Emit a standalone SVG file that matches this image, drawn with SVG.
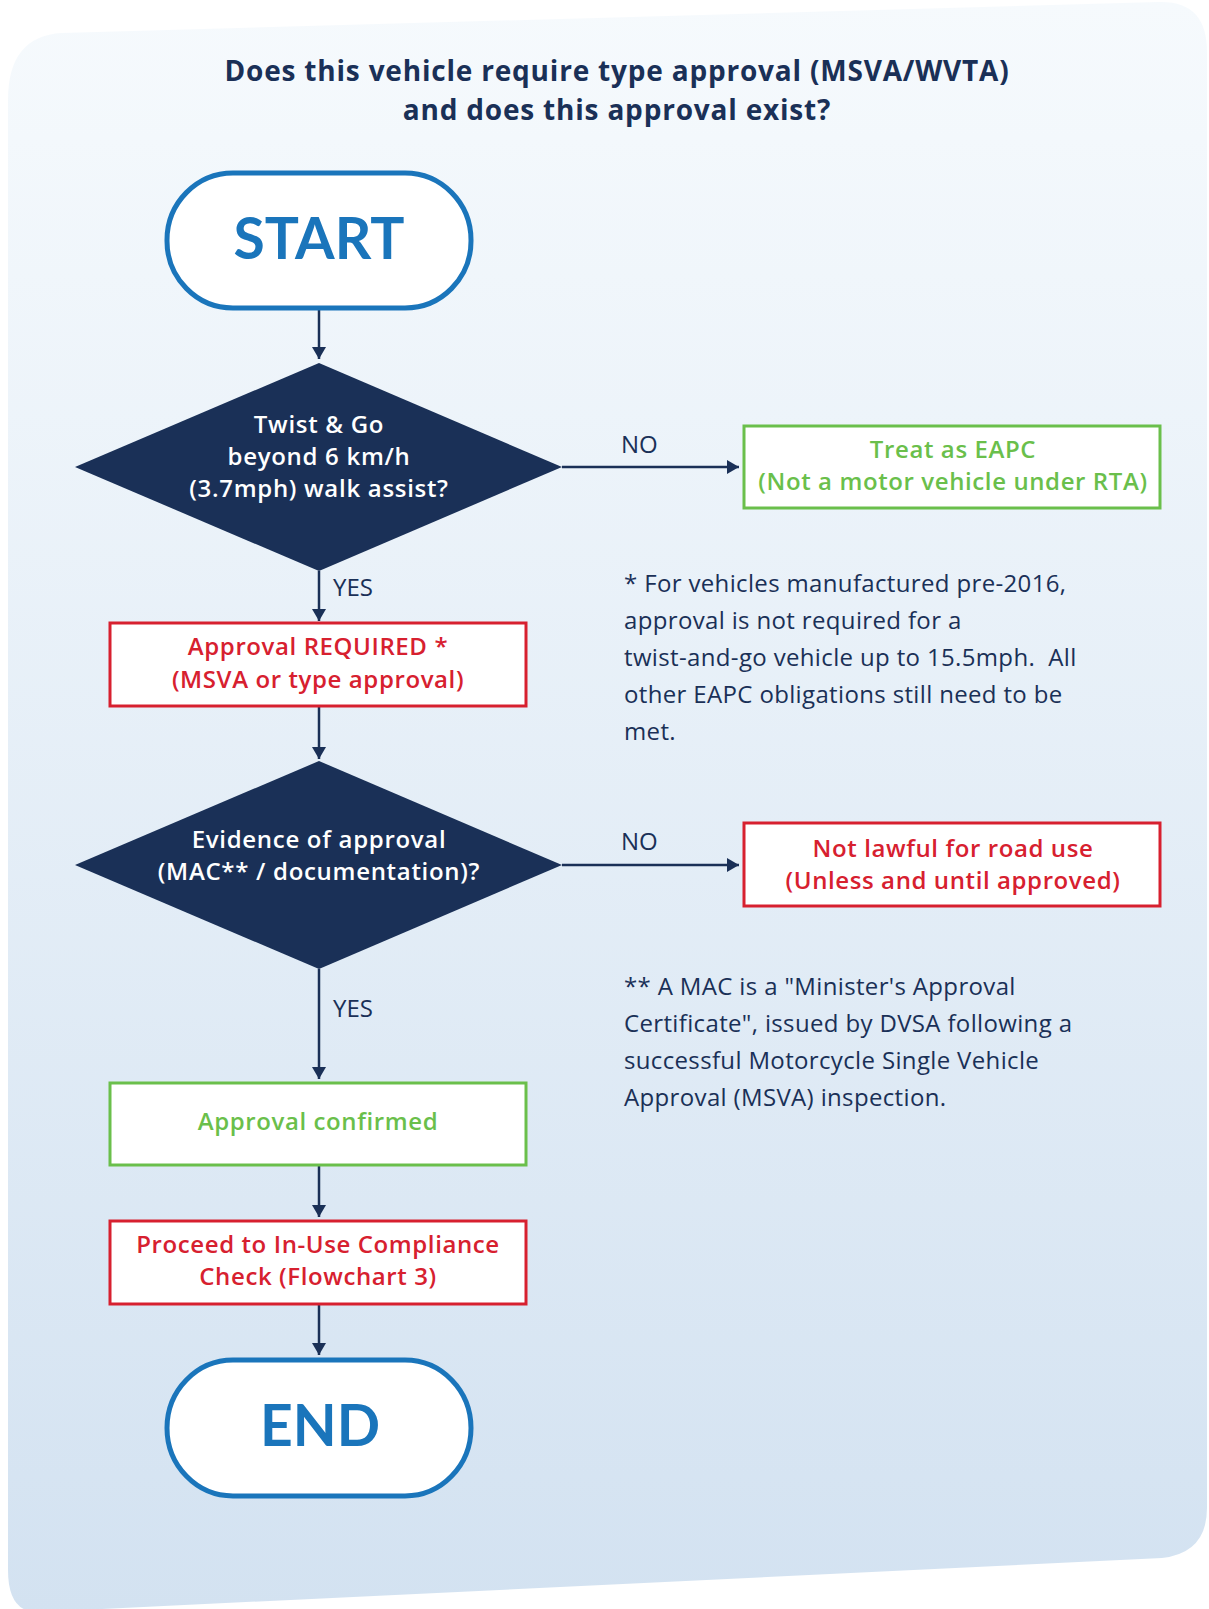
<svg xmlns="http://www.w3.org/2000/svg" width="1209" height="1609" viewBox="0 0 1209 1609">
<defs>
<linearGradient id="bg" x1="0" y1="0" x2="0" y2="1">
<stop offset="0" stop-color="#f6fafd"/>
<stop offset="1" stop-color="#d3e2f1"/>
</linearGradient>
<marker id="ah" viewBox="0 0 12 14" refX="12" refY="7" markerWidth="12" markerHeight="14" markerUnits="userSpaceOnUse" orient="auto">
<path d="M0,0 L12,7 L0,14 Z" fill="#1a3057"/>
</marker>
<style>
text{font-family:"Open Sans",Lato,"Liberation Sans",sans-serif}
.title{font-size:28px;font-weight:700;fill:#1a3057;text-anchor:middle;letter-spacing:0.8px}
.term{fill:#ffffff;stroke:#1a75bb;stroke-width:5}
.termt{font-family:Lato,"Open Sans",sans-serif;font-size:57px;font-weight:700;fill:#1a75bb;text-anchor:middle}
.dia{fill:#1a3057}
.diat{font-size:24px;font-weight:600;fill:#ffffff;text-anchor:middle;letter-spacing:0.7px}
.boxr{fill:#ffffff;stroke:#d7202f;stroke-width:3}
.boxg{fill:#ffffff;stroke:#6abf4b;stroke-width:3}
.tr{font-size:24px;font-weight:600;fill:#d7202f;text-anchor:middle;letter-spacing:0.6px}
.tg{font-size:24px;font-weight:600;fill:#6abf4b;text-anchor:middle;letter-spacing:0.6px}
.lbl{font-size:24px;fill:#1a3057}
.note{font-size:24px;fill:#1a3057;letter-spacing:0.35px}
.conn{stroke:#1a3057;stroke-width:2.5;fill:none;marker-end:url(#ah)}
</style>
</defs>
<rect width="1209" height="1609" fill="#ffffff"/>
<path d="M8,100 Q8,36 62,33 L1158,2 Q1207,0 1207,52 L1207,1508 Q1207,1553 1162,1558 L40,1612 Q8,1614 8,1570 Z" fill="url(#bg)"/>
<text class="title" x="617" y="81">Does this vehicle require type approval (MSVA/WVTA)</text>
<text class="title" x="617" y="120">and does this approval exist?</text>

<g id="connectors">
<line class="conn" x1="319" y1="309" x2="319" y2="359"/>
<line class="conn" x1="562" y1="467" x2="739" y2="467"/>
<line class="conn" x1="319" y1="571" x2="319" y2="621"/>
<line class="conn" x1="319" y1="706" x2="319" y2="759"/>
<line class="conn" x1="562" y1="865" x2="739" y2="865"/>
<line class="conn" x1="319" y1="969" x2="319" y2="1079"/>
<line class="conn" x1="319" y1="1165" x2="319" y2="1217"/>
<line class="conn" x1="319" y1="1304" x2="319" y2="1355"/>
<text class="lbl" x="621" y="453">NO</text>
<text class="lbl" x="333" y="596">YES</text>
<text class="lbl" x="621" y="850">NO</text>
<text class="lbl" x="333" y="1017">YES</text>
</g>

<g id="start">
<rect class="term" x="167" y="173" width="304" height="135" rx="66" ry="67"/>
<text class="termt" x="319" y="259">START</text>
</g>

<g id="q1">
<polygon class="dia" points="319,363 562,467 319,571 75,467"/>
<text class="diat" x="319" y="433">Twist &amp; Go</text>
<text class="diat" x="319" y="465">beyond 6 km/h</text>
<text class="diat" x="319" y="497">(3.7mph) walk assist?</text>
</g>

<g id="eapc">
<rect class="boxg" x="744" y="426" width="416" height="82"/>
<text class="tg" x="953" y="458">Treat as EAPC</text>
<text class="tg" x="953" y="490">(Not a motor vehicle under RTA)</text>
</g>

<g id="required">
<rect class="boxr" x="110" y="623" width="416" height="83"/>
<text class="tr" x="318" y="655">Approval REQUIRED *</text>
<text class="tr" x="318" y="688">(MSVA or type approval)</text>
</g>

<g id="note1">
<text class="note" x="624" y="592">* For vehicles manufactured pre-2016,</text>
<text class="note" x="624" y="629">approval is not required for a</text>
<text class="note" x="624" y="666" xml:space="preserve">twist-and-go vehicle up to 15.5mph.  All</text>
<text class="note" x="624" y="703">other EAPC obligations still need to be</text>
<text class="note" x="624" y="740">met.</text>
</g>

<g id="q2">
<polygon class="dia" points="319,761 562,865 319,969 75,865"/>
<text class="diat" x="319" y="848">Evidence of approval</text>
<text class="diat" x="319" y="880">(MAC** / documentation)?</text>
</g>

<g id="notlawful">
<rect class="boxr" x="744" y="823" width="416" height="83"/>
<text class="tr" x="953" y="857">Not lawful for road use</text>
<text class="tr" x="953" y="889">(Unless and until approved)</text>
</g>

<g id="note2">
<text class="note" x="624" y="995">** A MAC is a "Minister's Approval</text>
<text class="note" x="624" y="1032">Certificate", issued by DVSA following a</text>
<text class="note" x="624" y="1069">successful Motorcycle Single Vehicle</text>
<text class="note" x="624" y="1106">Approval (MSVA) inspection.</text>
</g>

<g id="confirmed">
<rect class="boxg" x="110" y="1083" width="416" height="82"/>
<text class="tg" x="318" y="1130">Approval confirmed</text>
</g>

<g id="proceed">
<rect class="boxr" x="110" y="1221" width="416" height="83"/>
<text class="tr" x="318" y="1253">Proceed to In-Use Compliance</text>
<text class="tr" x="318" y="1285">Check (Flowchart 3)</text>
</g>

<g id="end">
<rect class="term" x="167" y="1360" width="304" height="136" rx="66" ry="68"/>
<text class="termt" x="320" y="1446">END</text>
</g>
</svg>
